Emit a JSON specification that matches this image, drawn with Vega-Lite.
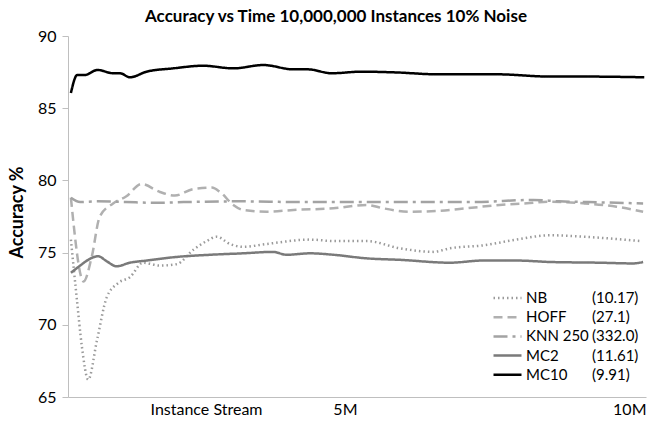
{
  "$schema": "https://vega.github.io/schema/vega-lite/v6.json",
  "autosize": "none",
  "width": 578,
  "height": 361,
  "padding": {"left": 68, "top": 36, "right": 2, "bottom": 25},
  "background": "white",
  "config": {
    "font": "Lato",
    "view": {"stroke": null}
  },
  "title": {
    "text": "Accuracy vs Time 10,000,000 Instances 10% Noise",
    "fontSize": 17,
    "fontWeight": "bold",
    "color": "#000",
    "frame": "group",
    "anchor": "middle",
    "dx": -21,
    "offset": 2
  },
  "data": {
    "values": [
      {"s": "NB", "c": "(10.17)", "x": 0.05, "y": 75.9},
      {"s": "NB", "c": "(10.17)", "x": 0.15, "y": 71.9},
      {"s": "NB", "c": "(10.17)", "x": 0.24, "y": 68.5},
      {"s": "NB", "c": "(10.17)", "x": 0.35, "y": 66.2},
      {"s": "NB", "c": "(10.17)", "x": 0.5, "y": 68.9},
      {"s": "NB", "c": "(10.17)", "x": 0.67, "y": 71.9},
      {"s": "NB", "c": "(10.17)", "x": 0.87, "y": 72.9},
      {"s": "NB", "c": "(10.17)", "x": 1.07, "y": 73.3},
      {"s": "NB", "c": "(10.17)", "x": 1.3, "y": 74.3},
      {"s": "NB", "c": "(10.17)", "x": 1.59, "y": 74.1},
      {"s": "NB", "c": "(10.17)", "x": 1.88, "y": 74.2},
      {"s": "NB", "c": "(10.17)", "x": 2.17, "y": 75.2},
      {"s": "NB", "c": "(10.17)", "x": 2.4, "y": 75.8},
      {"s": "NB", "c": "(10.17)", "x": 2.57, "y": 76.1},
      {"s": "NB", "c": "(10.17)", "x": 2.8, "y": 75.6},
      {"s": "NB", "c": "(10.17)", "x": 3.03, "y": 75.4},
      {"s": "NB", "c": "(10.17)", "x": 3.44, "y": 75.6},
      {"s": "NB", "c": "(10.17)", "x": 4.19, "y": 75.9},
      {"s": "NB", "c": "(10.17)", "x": 4.6, "y": 75.8},
      {"s": "NB", "c": "(10.17)", "x": 5.17, "y": 75.8},
      {"s": "NB", "c": "(10.17)", "x": 5.74, "y": 75.3},
      {"s": "NB", "c": "(10.17)", "x": 6.32, "y": 75.05},
      {"s": "NB", "c": "(10.17)", "x": 6.61, "y": 75.3},
      {"s": "NB", "c": "(10.17)", "x": 7.18, "y": 75.5},
      {"s": "NB", "c": "(10.17)", "x": 7.76, "y": 75.9},
      {"s": "NB", "c": "(10.17)", "x": 8.34, "y": 76.2},
      {"s": "NB", "c": "(10.17)", "x": 8.92, "y": 76.1},
      {"s": "NB", "c": "(10.17)", "x": 9.9, "y": 75.8},

      {"s": "HOFF", "c": "(27.1)", "x": 0.05, "y": 78.8},
      {"s": "HOFF", "c": "(27.1)", "x": 0.27, "y": 73.0},
      {"s": "HOFF", "c": "(27.1)", "x": 0.41, "y": 74.7},
      {"s": "HOFF", "c": "(27.1)", "x": 0.55, "y": 77.5},
      {"s": "HOFF", "c": "(27.1)", "x": 0.78, "y": 78.4},
      {"s": "HOFF", "c": "(27.1)", "x": 1.01, "y": 78.9},
      {"s": "HOFF", "c": "(27.1)", "x": 1.27, "y": 79.75},
      {"s": "HOFF", "c": "(27.1)", "x": 1.59, "y": 79.2},
      {"s": "HOFF", "c": "(27.1)", "x": 1.85, "y": 78.95},
      {"s": "HOFF", "c": "(27.1)", "x": 2.17, "y": 79.4},
      {"s": "HOFF", "c": "(27.1)", "x": 2.49, "y": 79.5},
      {"s": "HOFF", "c": "(27.1)", "x": 2.63, "y": 79.2},
      {"s": "HOFF", "c": "(27.1)", "x": 2.86, "y": 78.3},
      {"s": "HOFF", "c": "(27.1)", "x": 3.03, "y": 77.95},
      {"s": "HOFF", "c": "(27.1)", "x": 3.44, "y": 77.83},
      {"s": "HOFF", "c": "(27.1)", "x": 3.9, "y": 77.95},
      {"s": "HOFF", "c": "(27.1)", "x": 4.59, "y": 78.07},
      {"s": "HOFF", "c": "(27.1)", "x": 5.17, "y": 78.3},
      {"s": "HOFF", "c": "(27.1)", "x": 5.45, "y": 78.07},
      {"s": "HOFF", "c": "(27.1)", "x": 5.92, "y": 77.83},
      {"s": "HOFF", "c": "(27.1)", "x": 6.44, "y": 77.9},
      {"s": "HOFF", "c": "(27.1)", "x": 6.9, "y": 78.07},
      {"s": "HOFF", "c": "(27.1)", "x": 7.47, "y": 78.3},
      {"s": "HOFF", "c": "(27.1)", "x": 7.94, "y": 78.41},
      {"s": "HOFF", "c": "(27.1)", "x": 8.34, "y": 78.53},
      {"s": "HOFF", "c": "(27.1)", "x": 8.92, "y": 78.41},
      {"s": "HOFF", "c": "(27.1)", "x": 9.49, "y": 78.18},
      {"s": "HOFF", "c": "(27.1)", "x": 9.95, "y": 77.83},

      {"s": "KNN 250", "c": "(332.0)", "x": 0.05, "y": 78.8},
      {"s": "KNN 250", "c": "(332.0)", "x": 0.21, "y": 78.5},
      {"s": "KNN 250", "c": "(332.0)", "x": 0.5, "y": 78.55},
      {"s": "KNN 250", "c": "(332.0)", "x": 1.0, "y": 78.5},
      {"s": "KNN 250", "c": "(332.0)", "x": 1.5, "y": 78.45},
      {"s": "KNN 250", "c": "(332.0)", "x": 2.0, "y": 78.5},
      {"s": "KNN 250", "c": "(332.0)", "x": 3.0, "y": 78.55},
      {"s": "KNN 250", "c": "(332.0)", "x": 4.0, "y": 78.5},
      {"s": "KNN 250", "c": "(332.0)", "x": 5.0, "y": 78.5},
      {"s": "KNN 250", "c": "(332.0)", "x": 6.0, "y": 78.5},
      {"s": "KNN 250", "c": "(332.0)", "x": 7.0, "y": 78.5},
      {"s": "KNN 250", "c": "(332.0)", "x": 8.05, "y": 78.65},
      {"s": "KNN 250", "c": "(332.0)", "x": 8.5, "y": 78.55},
      {"s": "KNN 250", "c": "(332.0)", "x": 9.0, "y": 78.5},
      {"s": "KNN 250", "c": "(332.0)", "x": 9.95, "y": 78.4},

      {"s": "MC2", "c": "(11.61)", "x": 0.05, "y": 73.6},
      {"s": "MC2", "c": "(11.61)", "x": 0.21, "y": 74.1},
      {"s": "MC2", "c": "(11.61)", "x": 0.35, "y": 74.5},
      {"s": "MC2", "c": "(11.61)", "x": 0.52, "y": 74.75},
      {"s": "MC2", "c": "(11.61)", "x": 0.67, "y": 74.4},
      {"s": "MC2", "c": "(11.61)", "x": 0.84, "y": 74.05},
      {"s": "MC2", "c": "(11.61)", "x": 1.07, "y": 74.3},
      {"s": "MC2", "c": "(11.61)", "x": 1.36, "y": 74.45},
      {"s": "MC2", "c": "(11.61)", "x": 1.88, "y": 74.7},
      {"s": "MC2", "c": "(11.61)", "x": 2.46, "y": 74.85},
      {"s": "MC2", "c": "(11.61)", "x": 3.03, "y": 74.95},
      {"s": "MC2", "c": "(11.61)", "x": 3.55, "y": 75.05},
      {"s": "MC2", "c": "(11.61)", "x": 3.78, "y": 74.85},
      {"s": "MC2", "c": "(11.61)", "x": 4.19, "y": 74.95},
      {"s": "MC2", "c": "(11.61)", "x": 4.59, "y": 74.85},
      {"s": "MC2", "c": "(11.61)", "x": 5.17, "y": 74.6},
      {"s": "MC2", "c": "(11.61)", "x": 5.74, "y": 74.5},
      {"s": "MC2", "c": "(11.61)", "x": 6.61, "y": 74.3},
      {"s": "MC2", "c": "(11.61)", "x": 7.18, "y": 74.45},
      {"s": "MC2", "c": "(11.61)", "x": 7.76, "y": 74.45},
      {"s": "MC2", "c": "(11.61)", "x": 8.34, "y": 74.35},
      {"s": "MC2", "c": "(11.61)", "x": 9.2, "y": 74.3},
      {"s": "MC2", "c": "(11.61)", "x": 9.78, "y": 74.25},
      {"s": "MC2", "c": "(11.61)", "x": 9.95, "y": 74.35},

      {"s": "MC10", "c": "(9.91)", "x": 0.05, "y": 86.05},
      {"s": "MC10", "c": "(9.91)", "x": 0.16, "y": 87.3},
      {"s": "MC10", "c": "(9.91)", "x": 0.29, "y": 87.3},
      {"s": "MC10", "c": "(9.91)", "x": 0.51, "y": 87.65},
      {"s": "MC10", "c": "(9.91)", "x": 0.78, "y": 87.42},
      {"s": "MC10", "c": "(9.91)", "x": 0.9, "y": 87.42},
      {"s": "MC10", "c": "(9.91)", "x": 1.07, "y": 87.14},
      {"s": "MC10", "c": "(9.91)", "x": 1.36, "y": 87.53},
      {"s": "MC10", "c": "(9.91)", "x": 1.82, "y": 87.76},
      {"s": "MC10", "c": "(9.91)", "x": 2.34, "y": 87.94},
      {"s": "MC10", "c": "(9.91)", "x": 2.86, "y": 87.76},
      {"s": "MC10", "c": "(9.91)", "x": 3.38, "y": 87.99},
      {"s": "MC10", "c": "(9.91)", "x": 3.9, "y": 87.69},
      {"s": "MC10", "c": "(9.91)", "x": 4.15, "y": 87.69},
      {"s": "MC10", "c": "(9.91)", "x": 4.56, "y": 87.42},
      {"s": "MC10", "c": "(9.91)", "x": 5.08, "y": 87.53},
      {"s": "MC10", "c": "(9.91)", "x": 5.66, "y": 87.48},
      {"s": "MC10", "c": "(9.91)", "x": 6.38, "y": 87.35},
      {"s": "MC10", "c": "(9.91)", "x": 7.4, "y": 87.35},
      {"s": "MC10", "c": "(9.91)", "x": 8.34, "y": 87.19},
      {"s": "MC10", "c": "(9.91)", "x": 8.97, "y": 87.19},
      {"s": "MC10", "c": "(9.91)", "x": 9.97, "y": 87.14}
    ]
  },
  "mark": {"type": "line", "strokeWidth": 2.5, "interpolate": "monotone"},
  "encoding": {
    "x": {
      "field": "x",
      "type": "quantitative",
      "scale": {"domain": [0, 10], "nice": false},
      "axis": {
        "values": [5, 10],
        "labelExpr": "datum.value + 'M'",
        "labelAlign": "right",
        "labelFontSize": 16,
        "labelColor": "#000",
        "labelPadding": 4,
        "ticks": false,
        "grid": false,
        "domainColor": "#bfbfbf",
        "title": "Instance Stream",
        "titleFontWeight": "normal",
        "titleFontSize": 16,
        "titleColor": "#000",
        "titleAlign": "right",
        "titleBaseline": "top",
        "titleX": 194,
        "titleY": 4
      }
    },
    "y": {
      "field": "y",
      "type": "quantitative",
      "scale": {"domain": [65, 90], "nice": false, "zero": false},
      "axis": {
        "values": [65, 70, 75, 80, 85, 90],
        "labelFontSize": 16,
        "labelColor": "#000",
        "labelPadding": 6,
        "tickSize": 6,
        "tickColor": "#bfbfbf",
        "grid": false,
        "domainColor": "#bfbfbf",
        "title": "Accuracy %",
        "titleFontSize": 18,
        "titleFontWeight": "bold",
        "titleColor": "#000",
        "titleAngle": -90,
        "titleAlign": "center",
        "titleBaseline": "bottom",
        "titleX": -42,
        "titleY": 176
      }
    },
    "color": {
      "field": "s",
      "type": "nominal",
      "scale": {
        "domain": ["NB", "HOFF", "KNN 250", "MC2", "MC10"],
        "range": ["#9a9a9a", "#b0b0b0", "#a3a3a3", "#7a7a7a", "#000000"]
      },
      "legend": {
        "title": null,
        "orient": "none",
        "legendX": 424,
        "legendY": 254,
        "symbolType": "stroke",
        "symbolSize": 784,
        "symbolStrokeWidth": 2.5,
        "labelFontSize": 15,
        "labelColor": "#000",
        "labelOffset": 3,
        "clipHeight": 16,
        "rowPadding": 3.2,
        "padding": 0
      }
    },
    "strokeDash": {
      "field": "s",
      "type": "nominal",
      "scale": {
        "domain": ["NB", "HOFF", "KNN 250", "MC2", "MC10"],
        "range": [[1.5, 3], [9, 5], [14, 5, 3, 5], [1, 0], [1, 0]]
      },
      "legend": {
        "title": null,
        "orient": "none",
        "legendX": 424,
        "legendY": 254,
        "symbolType": "stroke",
        "symbolSize": 784,
        "symbolStrokeWidth": 2.5,
        "labelFontSize": 15,
        "labelColor": "#000",
        "labelOffset": 3,
        "clipHeight": 16,
        "rowPadding": 3.2,
        "padding": 0
      }
    },
    "opacity": {
      "field": "c",
      "type": "nominal",
      "scale": {
        "domain": ["(10.17)", "(27.1)", "(332.0)", "(11.61)", "(9.91)"],
        "range": [1, 1, 1, 1, 1]
      },
      "legend": {
        "title": null,
        "orient": "none",
        "legendX": 509,
        "legendY": 254,
        "symbolType": "circle",
        "symbolSize": 0,
        "symbolOpacity": 0,
        "symbolStrokeWidth": 0,
        "labelFontSize": 15,
        "labelColor": "#000",
        "labelOffset": 0,
        "clipHeight": 16,
        "rowPadding": 3.2,
        "padding": 0
      }
    }
  }
}
